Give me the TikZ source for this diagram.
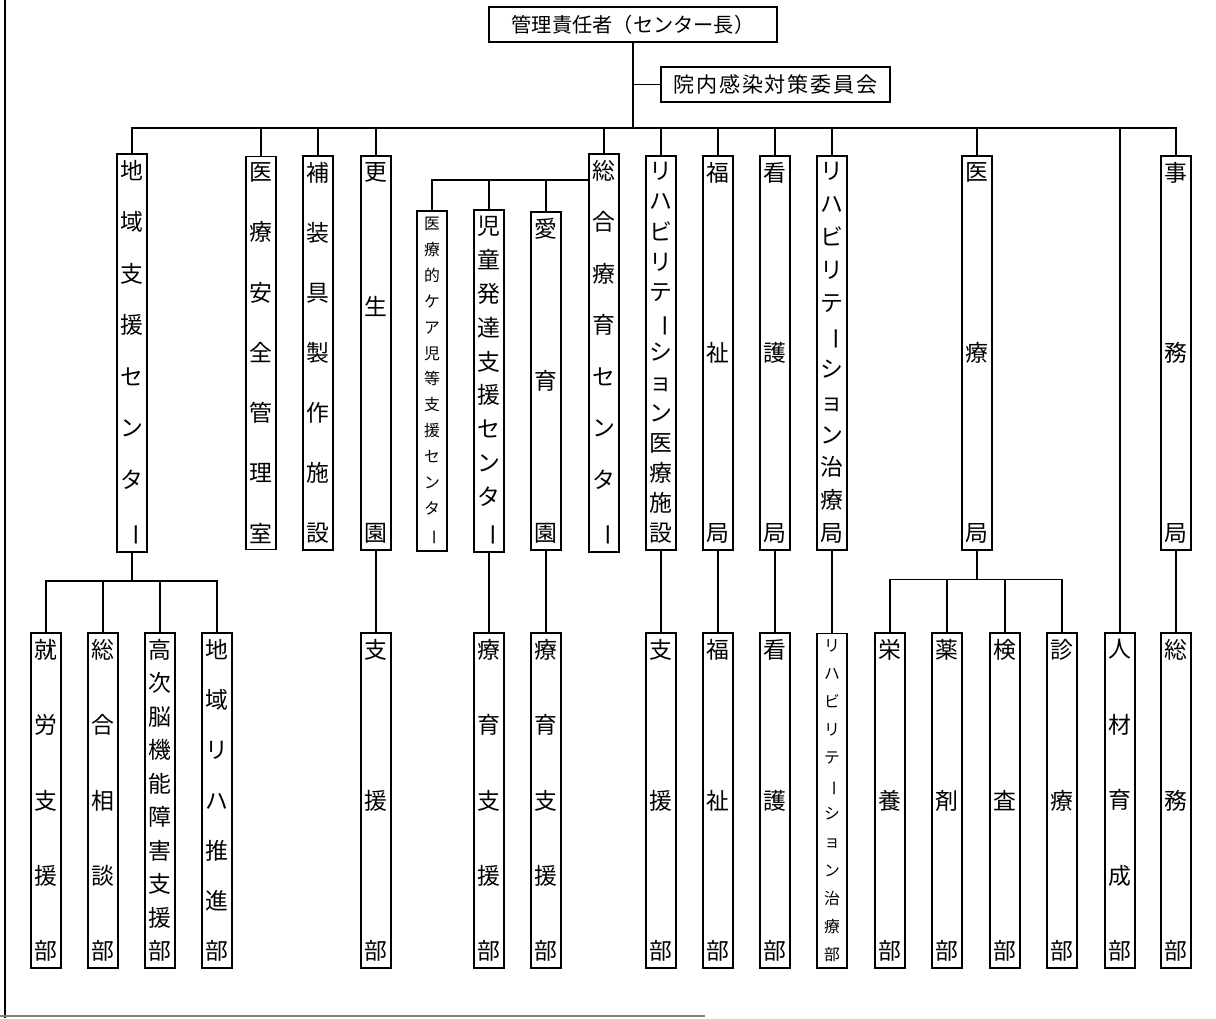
\documentclass[tikz,border=0pt]{standalone}
\usepackage{fontspec}
\setmainfont{Noto Sans CJK JP}
\usepackage{tikz}

% vertical text: one character per line, spread over the given height
\newcommand\chouon{\rotatebox[origin=c]{-90}{ー}}
\newcommand\tatenext[1]{\ifx#1\relax\else\vfill\hbox to\hsize{\hss#1\hss}\expandafter\tatenext\fi}
\newcommand\tatefirst[1]{\hbox to\hsize{\hss#1\hss}\tatenext}
\newcommand\tate[2]{\parbox[c][#1][s]{0.6cm}{\expandafter\tatefirst#2\relax}}

\begin{document}
\begin{tikzpicture}[x=0.02cm,y=-0.02cm,
  headbox/.style={draw,line width=1pt,minimum height=0.7cm,inner sep=0pt},
  unitbox/.style={draw,line width=1pt,inner xsep=0pt,inner ysep=3.5pt,minimum width=0.6cm,font=\fontsize{13pt}{15pt}\selectfont},
  smallbox/.style={unitbox,font=\fontsize{9pt}{10pt}\selectfont},
  link/.style={line width=0.9pt}]
  \useasboundingbox (0,0) rectangle (1216,1018);
  % edges of the scanned page
  \draw[line width=0.8pt] (5,0) -- (5,1018);
  \draw[line width=0.6pt,gray] (0,1016) -- (705,1016);

  \node[headbox,minimum width=5.76cm,font=\fontsize{11.5pt}{14pt}\selectfont] (chief) at (633,24.5) {管理責任者（センター長）};
  \node[headbox,minimum width=4.58cm,font=\fontsize{12pt}{14pt}\selectfont\addfontfeature{LetterSpace=8}] (iin) at (775.5,84.5) {院内感染対策委員会};

  % first level
  \foreach \nm/\x/\txt in {tiiki/132/地域支援センタ\chouon, anzen/261/医療安全管理室, sougu/318/補装具製作施設,
      kousei/376/更~~生~~~~園, sougou/604/総合療育センタ\chouon, rihairyo/661/リハビリテ\chouon ション医療施設,
      fukushi/718/福祉局, kango/775/看護局, rihachiryo/832/リハビリテ\chouon ション治療局,
      iryou/977/医療局, jimu/1176/事務局}
    \node[unitbox] (\nm) at (\x,353) {\tate{216pt}{\txt}};
  \node[smallbox] (kea) at (432,381) {\tate{184pt}{医療的ケア児等支援センタ\chouon}};
  \foreach \nm/\x/\txt in {jidou/489/児童発達支援センタ\chouon, aiiku/546/愛育園}
    \node[unitbox] (\nm) at (\x,381) {\tate{184pt}{\txt}};

  % second level
  \foreach \nm/\x/\txt in {shurou/46/就労支援部, sodan/103/総合相談部, kouji/160/高次脳機能障害支援部,
      tiikireha/217/地域リハ推進部, kshien/376/支援部, jryoiku/489/療育支援部, aryoiku/546/療育支援部,
      rshien/661/支援部, fukushibu/718/福祉部, kangobu/775/看護部, eiyou/890/栄養部, yakuzai/947/薬剤部,
      kensa/1005/検査部, shinryo/1062/診療部, jinzai/1120/人材育成部, somu/1176/総務部}
    \node[unitbox] (\nm) at (\x,800.5) {\tate{182.5pt}{\txt}};
  \node[smallbox] (rchiryobu) at (832,800.5) {\tate{182.5pt}{リハビリテ\chouon ション治療部}};

  % connectors
  \coordinate (hub) at (633,128);
  \draw[link] (chief) -- (hub);
  \draw[link] (chief.south |- iin) -- (iin);
  \draw[link] (tiiki) |- (hub) -| (jimu);
  \foreach \nm in {anzen,sougu,kousei,sougou,rihairyo,fukushi,kango,rihachiryo,iryou,jinzai}
    \draw[link] (\nm) -- (\nm |- hub);

  \path (sougou.north west) ++(0,27) coordinate (sj);
  \draw[link] (sj) -| (kea);
  \foreach \nm in {jidou,aiiku} \draw[link] (\nm) -- (\nm |- sj);

  \path (tiiki.south) ++(0,28) coordinate (tj);
  \draw[link] (tiiki) -- (tj);
  \draw[link] (shurou) |- (tj) -| (tiikireha);
  \foreach \nm in {sodan,kouji} \draw[link] (\nm) -- (\nm |- tj);

  \path (iryou.south) ++(0,29) coordinate (ij);
  \draw[link] (iryou) -- (ij);
  \draw[link] (eiyou) |- (ij) -| (shinryo);
  \foreach \nm in {yakuzai,kensa} \draw[link] (\nm) -- (\nm |- ij);

  \foreach \a/\b in {kousei/kshien, jidou/jryoiku, aiiku/aryoiku, rihairyo/rshien, fukushi/fukushibu,
      kango/kangobu, rihachiryo/rchiryobu, jimu/somu}
    \draw[link] (\a) -- (\b);
\end{tikzpicture}
\end{document}
